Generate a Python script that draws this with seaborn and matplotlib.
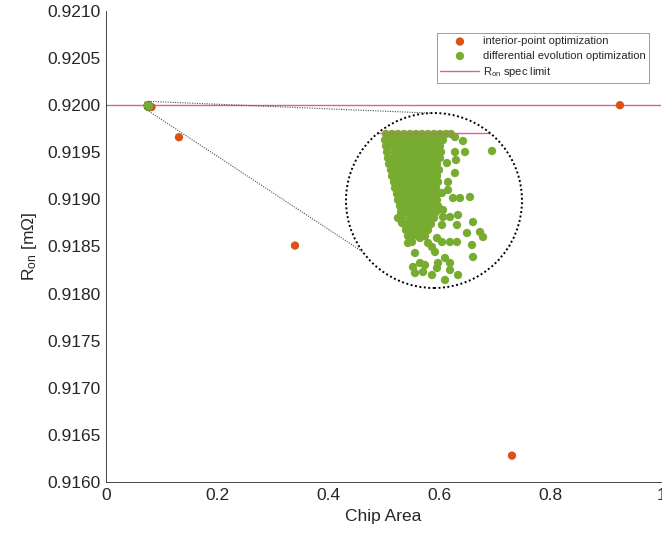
import numpy as np
import matplotlib
matplotlib.use('Agg')
import matplotlib.pyplot as plt
import seaborn as sns
from matplotlib.patches import Ellipse
from matplotlib.lines import Line2D

# ---------------- data ----------------
ip_area = [0.0820, 0.1315, 0.3405, 0.7315, 0.9260]
ip_ron = [0.91998, 0.91966, 0.91851, 0.91628, 0.92000]

de_area = [
    0.07572, 0.07578, 0.07584, 0.07590, 0.07596, 0.07602, 0.07608, 0.07614, 0.07620, 0.07626, 0.07632, 0.07637,
    0.07571, 0.07575, 0.07581, 0.07587, 0.07593, 0.07599, 0.07605, 0.07611, 0.07617, 0.07623, 0.07629,
    0.07572, 0.07578, 0.07584, 0.07590, 0.07596, 0.07602, 0.07608, 0.07614, 0.07620, 0.07626,
    0.07573, 0.07581, 0.07587, 0.07593, 0.07599, 0.07605, 0.07611, 0.07617, 0.07623, 0.07627,
    0.07574, 0.07578, 0.07584, 0.07590, 0.07596, 0.07602, 0.07608, 0.07614, 0.07620, 0.07626,
    0.07575, 0.07581, 0.07587, 0.07593, 0.07599, 0.07605, 0.07611, 0.07617, 0.07623,
    0.07577, 0.07584, 0.07590, 0.07596, 0.07602, 0.07608, 0.07614, 0.07620, 0.07625,
    0.07578, 0.07581, 0.07587, 0.07593, 0.07599, 0.07605, 0.07611, 0.07617, 0.07623,
    0.07580, 0.07584, 0.07590, 0.07596, 0.07602, 0.07608, 0.07614, 0.07620, 0.07624,
    0.07581, 0.07587, 0.07593, 0.07599, 0.07605, 0.07611, 0.07617, 0.07622,
    0.07583, 0.07590, 0.07596, 0.07602, 0.07608, 0.07614, 0.07620, 0.07623,
    0.07584, 0.07587, 0.07593, 0.07599, 0.07605, 0.07611, 0.07617, 0.07623,
    0.07586, 0.07590, 0.07596, 0.07602, 0.07608, 0.07614, 0.07620, 0.07624,
    0.07587, 0.07593, 0.07599, 0.07605, 0.07611, 0.07617, 0.07622,
    0.07588, 0.07596, 0.07602, 0.07608, 0.07614, 0.07620,
    0.07590, 0.07593, 0.07599, 0.07605, 0.07611, 0.07617,
    0.07592, 0.07596, 0.07602, 0.07608, 0.07614,
    0.07594, 0.07599, 0.07605, 0.07611,
    0.07641, 0.07649, 0.07651, 0.07678, 0.07641, 0.07642, 0.07633, 0.07641, 0.07634, 0.07634,
    0.07628, 0.07639, 0.07646, 0.07656, 0.07629, 0.07629, 0.07636, 0.07644, 0.07659, 0.07628,
    0.07643, 0.07584, 0.07588, 0.07653, 0.07666, 0.07669, 0.07628, 0.07636, 0.07643, 0.07658,
    0.07614, 0.07618, 0.07598, 0.07594, 0.07606, 0.07623, 0.07601, 0.07621, 0.07631, 0.07659,
    0.07606, 0.07611, 0.07624, 0.07636, 0.07599, 0.07601, 0.07609, 0.07623, 0.07618, 0.07636,
    0.07644, 0.07631,
]
de_ron = [
    0.9199999, 0.9199999, 0.9199999, 0.9199999, 0.9199999, 0.9199999, 0.9199999, 0.9199999, 0.9199999, 0.9199999, 0.9199999, 0.9199999,
    0.9199993, 0.9199993, 0.9199993, 0.9199993, 0.9199993, 0.9199993, 0.9199993, 0.9199993, 0.9199993, 0.9199993, 0.9199993,
    0.9199987, 0.9199987, 0.9199987, 0.9199987, 0.9199987, 0.9199987, 0.9199987, 0.9199987, 0.9199987, 0.9199987,
    0.9199981, 0.9199981, 0.9199981, 0.9199981, 0.9199981, 0.9199981, 0.9199981, 0.9199981, 0.9199981, 0.9199981,
    0.9199975, 0.9199975, 0.9199975, 0.9199975, 0.9199975, 0.9199975, 0.9199975, 0.9199975, 0.9199975, 0.9199975,
    0.9199969, 0.9199969, 0.9199969, 0.9199969, 0.9199969, 0.9199969, 0.9199969, 0.9199969, 0.9199969,
    0.9199963, 0.9199963, 0.9199963, 0.9199963, 0.9199963, 0.9199963, 0.9199963, 0.9199963, 0.9199963,
    0.9199957, 0.9199957, 0.9199957, 0.9199957, 0.9199957, 0.9199957, 0.9199957, 0.9199957, 0.9199957,
    0.9199951, 0.9199951, 0.9199951, 0.9199951, 0.9199951, 0.9199951, 0.9199951, 0.9199951, 0.9199951,
    0.9199945, 0.9199945, 0.9199945, 0.9199945, 0.9199945, 0.9199945, 0.9199945, 0.9199945,
    0.9199939, 0.9199939, 0.9199939, 0.9199939, 0.9199939, 0.9199939, 0.9199939, 0.9199939,
    0.9199933, 0.9199933, 0.9199933, 0.9199933, 0.9199933, 0.9199933, 0.9199933, 0.9199933,
    0.9199927, 0.9199927, 0.9199927, 0.9199927, 0.9199927, 0.9199927, 0.9199927, 0.9199927,
    0.9199921, 0.9199921, 0.9199921, 0.9199921, 0.9199921, 0.9199921, 0.9199921,
    0.9199915, 0.9199915, 0.9199915, 0.9199915, 0.9199915, 0.9199915,
    0.9199909, 0.9199909, 0.9199909, 0.9199909, 0.9199909, 0.9199909,
    0.9199903, 0.9199903, 0.9199903, 0.9199903, 0.9199903,
    0.9199897, 0.9199897, 0.9199897, 0.9199897,
    0.9199996, 0.9199992, 0.9199981, 0.9199982, 0.9199981, 0.9199973, 0.9199970, 0.9199960, 0.9199951, 0.9199943,
    0.9199940, 0.9199935, 0.9199935, 0.9199936, 0.9199923, 0.9199916, 0.9199916, 0.9199918, 0.9199911, 0.9199908,
    0.9199908, 0.9199915, 0.9199910, 0.9199900, 0.9199901, 0.9199896, 0.9199891, 0.9199891, 0.9199891, 0.9199888,
    0.9199890, 0.9199886, 0.9199891, 0.9199890, 0.9199895, 0.9199895, 0.9199880, 0.9199881, 0.9199875, 0.9199876,
    0.9199870, 0.9199868, 0.9199870, 0.9199870, 0.9199866, 0.9199860, 0.9199861, 0.9199865, 0.9199858, 0.9199863,
    0.9199858, 0.9199853,
]

spec_limit = 0.92

x_ticks = [0.0, 0.2, 0.4, 0.6, 0.8, 1.0]
x_tick_labels = ['0', '0.2', '0.4', '0.6', '0.8', '1']
y_ticks = [0.9160, 0.9165, 0.9170, 0.9175, 0.9180, 0.9185, 0.9190, 0.9195, 0.9200, 0.9205, 0.9210]
y_tick_labels = ['0.9160', '0.9165', '0.9170', '0.9175', '0.9180', '0.9185',
                 '0.9190', '0.9195', '0.9200', '0.9205', '0.9210']

inset_xlim = (0.07532, 0.07708)
inset_ylim = (0.9199845, 0.9200020)

label_ip = 'interior-point optimization'
label_de = 'differential evolution optimization'
label_spec = r'R$_{\mathrm{on}}$ spec limit'

# ---------------- style ----------------
sns.set_theme(style='white')
plt.rcParams['font.family'] = ['Liberation Sans', 'DejaVu Sans']
plt.rcParams['mathtext.fontset'] = 'custom'
plt.rcParams['mathtext.rm'] = 'Liberation Sans'
plt.rcParams['mathtext.it'] = 'Liberation Sans:italic'
plt.rcParams['mathtext.bf'] = 'Liberation Sans:bold'

ORANGE = '#D95319'
GREEN = '#77AC30'
LINEC = '#E0628A'
TXT = '#262626'
MS = 36

W, H = 662, 536
fig = plt.figure(figsize=(W / 100, H / 100), dpi=100)
fig.patch.set_facecolor('white')
ax = fig.add_axes([106 / W, (H - 482) / H, 555 / W, 471 / H])

ax.axhline(spec_limit, color=LINEC, lw=1.0, zorder=1, label=label_spec)
sns.scatterplot(x=ip_area, y=ip_ron, ax=ax, color=ORANGE, s=MS, edgecolor='none',
                linewidth=0, label=label_ip, zorder=3)
sns.scatterplot(x=de_area, y=de_ron, ax=ax, color=GREEN, s=MS, edgecolor='none',
                linewidth=0, label=label_de, zorder=4)

ax.set_xlim(0, 1)
ax.set_ylim(0.916, 0.921)
ax.set_xticks(x_ticks)
ax.set_xticklabels(x_tick_labels)
ax.set_yticks(y_ticks)
ax.set_yticklabels(y_tick_labels)
ax.tick_params(direction='in', length=4, width=0.6, labelsize=12.5, colors=TXT, pad=4)
for s in ['top', 'right']:
    ax.spines[s].set_visible(False)
for s in ['left', 'bottom']:
    ax.spines[s].set_color(TXT)
    ax.spines[s].set_linewidth(0.6)
ax.set_xlabel('Chip Area', fontsize=12.5, color=TXT, labelpad=5)
ax.set_ylabel(r'R$_{\mathrm{on}}$ [mΩ]', fontsize=12.5, color=TXT, labelpad=6)

handles, labels = ax.get_legend_handles_labels()
order = [labels.index(label_ip), labels.index(label_de), labels.index(label_spec)]
leg = ax.legend([handles[i] for i in order], [labels[i] for i in order],
                loc='upper right', bbox_to_anchor=(0.978, 0.953), fontsize=8,
                frameon=True, fancybox=False, edgecolor='0.55', framealpha=1,
                borderpad=0.3, labelspacing=0.4, handlelength=3.5,
                handletextpad=0.3, borderaxespad=0)
leg.get_frame().set_linewidth(0.6)
for t in leg.get_texts():
    t.set_color(TXT)

# ---------------- magnified inset ----------------
bx, by, r2 = 434.0, H - 200.5, 88.0
axins = fig.add_axes([(bx - r2) / W, (by - 87.5) / H, 2 * r2 / W, 175 / H])
axins.axis('off')
circ = Ellipse((0.5, 0.5), 1, 1, transform=axins.transAxes, facecolor='white',
               edgecolor='none', zorder=0)
axins.add_patch(circ)
sns.scatterplot(x=de_area, y=de_ron, ax=axins, color=GREEN, s=MS, edgecolor='none',
                linewidth=0, legend=False, zorder=2)
axins.collections[-1].set_clip_path(circ)
ln = axins.axhline(spec_limit, color=LINEC, lw=1.0, zorder=3)
ln.set_clip_path(circ)
axins.set_xlim(inset_xlim)
axins.set_ylim(inset_ylim)
border = Ellipse((0.5, 0.5), 1, 1, transform=axins.transAxes, facecolor='none',
                 edgecolor='black', lw=1.4, linestyle=(0, (1, 1.3)), zorder=5, clip_on=False)
axins.add_patch(border)

# small circle on the main axes + connector lines
cx, cy = ax.transData.transform((np.mean(inset_xlim), np.mean(inset_ylim)))
r1 = 4.5
small = Ellipse((cx / W, cy / H), 2 * r1 / W, 2 * r1 / H, transform=fig.transFigure,
                fill=False, edgecolor='0.5', lw=0.8, linestyle=(0, (1, 1)), zorder=6)
fig.add_artist(small)
for ang in (92.6, 216.0):
    a = np.deg2rad(ang)
    p1 = (cx + r1 * np.cos(a), cy + r1 * np.sin(a))
    p2 = (bx + r2 * np.cos(a), by + 87.5 * np.sin(a))
    fig.add_artist(Line2D([p1[0] / W, p2[0] / W], [p1[1] / H, p2[1] / H],
                          transform=fig.transFigure, color='0.3', lw=0.8,
                          linestyle=(0, (1, 1.2)), zorder=6))

fig.savefig('out.png', dpi=100, facecolor='white')
